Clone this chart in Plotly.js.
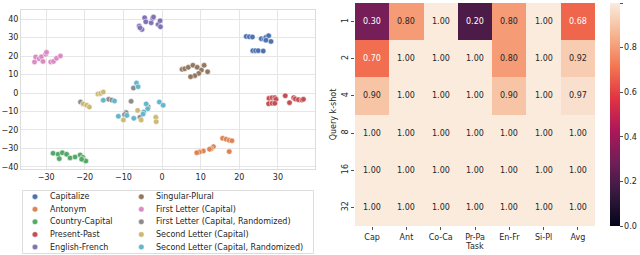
<!DOCTYPE html>
<html><head><meta charset="utf-8">
<script src="https://cdn.plot.ly/plotly-3.0.1.min.js"></script>
<style>html,body{margin:0;padding:0;background:#fff}#chart{width:640px;height:255px}</style>
</head><body><div id="chart"></div>
<script>
// ---------- scatter (embedding) data ----------
const taskNames = ["Capitalize","Antonym","Country-Capital","Present-Past","English-French",
  "Singular-Plural","First Letter (Capital)","First Letter (Capital, Randomized)",
  "Second Letter (Capital)","Second Letter (Capital, Randomized)"];
const taskColors = ["#4c72b0","#dd8452","#55a868","#c44e52","#8172b3",
  "#937860","#da8bc3","#8c8c8c","#ccb974","#64b5cd"];

const capitalizeX = [21.8,22.6,23.4,25.7,26.5,26.9,27.6,28.2,26.9,23.5,24.2,24.9,26.2];
const capitalizeY = [30.6,30.4,30.3,29.4,29.2,30.1,31.0,27.9,28.6,22.9,22.9,22.9,22.7];
const antonymX = [15.7,16.6,17.4,18.1,13.3,12.7,12.3,10.7,9.7,9.0,17.4];
const antonymY = [-24.5,-25.0,-25.6,-25.8,-29.0,-30.1,-30.4,-31.4,-31.9,-32.3,-31.7];
const countryCapitalX = [-28.2,-26.9,-25.8,-24.7,-23.8,-22.5,-21.2,-20.5,-20.2,-19.7,-20.8,-26.6];
const countryCapitalY = [-32.6,-33.1,-32.3,-33.1,-35.1,-34.6,-33.5,-34.8,-36.2,-36.8,-35.8,-35.5];
const presentPastX = [27.7,28.5,29.2,29.5,27.6,28.5,29.2,31.9,33.0,34.1,34.5,35.3,36.2,36.6];
const presentPastY = [-2.9,-2.5,-2.5,-3.4,-5.8,-5.6,-5.6,-1.5,-5.2,-2.5,-3.2,-3.6,-3.8,-3.4];
const englishFrenchX = [-4.5,-4.2,-5.9,-5.2,-5.7,-2.8,-2.4,-2.2,-1.0,-0.5,-0.4];
const englishFrenchY = [40.7,38.5,36.2,34.4,35.3,38.0,40.4,41.1,37.1,39.1,35.8];
const singularPluralX = [5.2,5.9,6.8,8.0,9.1,10.2,10.9,11.8,9.5,8.5,7.4];
const singularPluralY = [12.8,13.1,13.9,15.0,13.9,12.4,15.0,11.5,10.6,9.4,8.8];
const firstLetterX = [-33.0,-32.7,-31.8,-31.2,-30.8,-30.1,-29.9,-28.8,-28.1,-27.3,-26.3];
const firstLetterY = [16.8,19.5,18.5,19.6,17.1,20.9,22.0,16.8,17.1,18.8,20.0];
const firstLetterRandX = [-21.1,-13.8,-13.0,-7.4,-8.0,-9.3,-5.7,-3.6,-9.7];
const firstLetterRandY = [-4.9,-3.4,-3.8,2.7,-4.5,-10.6,-13.1,-7.4,-11.7];
const secondLetterX = [-20.4,-19.5,-18.8,-16.6,-15.9,-15.2,-6.3,-10.0,-5.4,-1.6,-1.5];
const secondLetterY = [-5.9,-6.6,-7.6,-0.5,-0.2,0.5,-9.4,-14.6,-14.6,-13.1,-15.5];
const secondLetterRandX = [-15.2,-12.3,-11.3,-9.1,-7.3,-6.6,-6.2,-4.1,-3.7,-4.7,-4.9,-0.7,0.3];
const secondLetterRandY = [-3.9,-4.3,-12.6,-12.1,-13.7,5.4,3.4,-5.9,-8.5,-10.3,-11.4,-4.9,-6.6];

const seriesX = [capitalizeX,antonymX,countryCapitalX,presentPastX,englishFrenchX,
  singularPluralX,firstLetterX,firstLetterRandX,secondLetterX,secondLetterRandX];
const seriesY = [capitalizeY,antonymY,countryCapitalY,presentPastY,englishFrenchY,
  singularPluralY,firstLetterY,firstLetterRandY,secondLetterY,secondLetterRandY];

// ---------- heatmap data ----------
const taskAbbrev = ["Cap","Ant","Co-Ca","Pr-Pa","En-Fr","Si-Pl","Avg"];
const kShots = ["1","2","4","8","16","32"];
const acc_k1  = [0.30,0.80,1.00,0.20,0.80,1.00,0.68];
const acc_k2  = [0.70,1.00,1.00,1.00,0.80,1.00,0.92];
const acc_k4  = [0.90,1.00,1.00,1.00,0.90,1.00,0.97];
const acc_k8  = [1.00,1.00,1.00,1.00,1.00,1.00,1.00];
const acc_k16 = [1.00,1.00,1.00,1.00,1.00,1.00,1.00];
const acc_k32 = [1.00,1.00,1.00,1.00,1.00,1.00,1.00];
const accRows = [acc_k1,acc_k2,acc_k4,acc_k8,acc_k16,acc_k32];
const cbTicks = [0,0.2,0.4,0.6,0.8,1.0];

const FONT = "DejaVu Sans";
const TXT = "#262626";
const W = 640, H = 255;
const px = v => v / W, py = v => 1 - v / H;

const rocket = [[0,"#03051a"],[0.143,"#35193e"],[0.286,"#701f57"],[0.429,"#ad1759"],
  [0.571,"#e13342"],[0.714,"#f37651"],[0.857,"#f6b48f"],[1,"#faebdd"]];

const colIdx = taskAbbrev.map((_,i)=>i);
const rowIdx = kShots.map((_,i)=>i);

const traces = [];
taskNames.forEach((name,i)=>{
  traces.push({type:"scatter",mode:"markers",x:seriesX[i],y:seriesY[i],name:name,
    xaxis:"x",yaxis:"y",showlegend:false,hoverinfo:"skip",
    marker:{color:taskColors[i],size:5.5,line:{color:"#ffffff",width:0.5}}});
});

traces.push({type:"heatmap",x:colIdx,y:rowIdx,z:accRows,xaxis:"x2",yaxis:"y2",
  zmin:0,zmax:1,colorscale:rocket,hoverinfo:"skip",
  colorbar:{x:px(610),xanchor:"left",xref:"paper",y:py(226),yanchor:"bottom",yref:"paper",
    len:(226-3)/H,lenmode:"fraction",thickness:10,thicknessmode:"pixels",
    xpad:0,ypad:0,outlinewidth:0,ticks:"outside",ticklen:3,tickwidth:0.8,tickcolor:TXT,
    tickvals:cbTicks,ticktext:cbTicks.map(v=>v.toFixed(1)),
    tickfont:{family:FONT,size:8,color:TXT}}});

// legend swatches (positions from index: column-major, 5 rows)
const legCol = taskNames.map((_,i)=>Math.floor(i/5));
const legRow = taskNames.map((_,i)=>i%5);
traces.push({type:"scatter",mode:"markers",x:legCol,y:legRow,xaxis:"x3",yaxis:"y3",
  showlegend:false,hoverinfo:"skip",cliponaxis:false,
  marker:{color:taskColors,size:5.5,line:{color:"#ffffff",width:0.4}}});

const annotations = [];
accRows.forEach((row,r)=>{
  row.forEach((v,c)=>{
    annotations.push({x:colIdx[c],y:rowIdx[r],xref:"x2",yref:"y2",text:v.toFixed(2),
      showarrow:false,font:{family:FONT,size:8,color:v<0.75?"#ffffff":TXT}});
  });
});
taskNames.forEach((name,i)=>{
  annotations.push({x:legCol[i],y:legRow[i],xref:"x3",yref:"y3",text:name,showarrow:false,
    xanchor:"left",xshift:13,font:{family:FONT,size:8,color:TXT}});
});

const layout = {
  width:W,height:H,margin:{l:0,r:0,t:0,b:0},paper_bgcolor:"#fff",plot_bgcolor:"#fff",
  showlegend:false,font:{family:FONT,size:8,color:TXT},
  xaxis:{domain:[px(21),px(315)],range:[-36.5,39.6],tickvals:[-30,-20,-10,0,10,20,30],
    showgrid:true,gridcolor:"#e6e6e6",gridwidth:1,zeroline:false,showline:true,mirror:true,
    linecolor:"#dcdcdc",linewidth:1,ticks:"",tickfont:{family:FONT,size:8,color:TXT},
    automargin:false,fixedrange:true,anchor:"y"},
  yaxis:{domain:[py(169),py(10)],range:[-41.1,44.9],tickvals:[-40,-30,-20,-10,0,10,20,30,40],
    showgrid:true,gridcolor:"#e6e6e6",gridwidth:1,zeroline:false,showline:true,mirror:true,
    linecolor:"#dcdcdc",linewidth:1,ticks:"",tickfont:{family:FONT,size:8,color:TXT},
    automargin:false,fixedrange:true,anchor:"x"},
  xaxis2:{domain:[px(355),px(595)],anchor:"y2",range:[-0.5,taskAbbrev.length-0.5],
    tickvals:colIdx,ticktext:taskAbbrev,showgrid:false,zeroline:false,
    showline:false,ticks:"outside",ticklen:3,tickwidth:0.8,tickcolor:TXT,
    tickfont:{family:FONT,size:8,color:TXT},automargin:false,fixedrange:true,
    title:{text:"Task",font:{family:FONT,size:8,color:TXT},standoff:2}},
  yaxis2:{domain:[py(226),py(3)],anchor:"x2",range:[kShots.length-0.5,-0.5],
    tickvals:rowIdx,ticktext:kShots,
    showgrid:false,zeroline:false,showline:false,ticks:"outside",ticklen:3,tickwidth:0.8,
    tickcolor:TXT,tickangle:-90,tickfont:{family:FONT,size:8,color:TXT},automargin:false,
    fixedrange:true,title:{text:"Query k-shot",font:{family:FONT,size:8,color:TXT},standoff:2}},
  xaxis3:{domain:[px(35),px(141.3)],range:[0,1],visible:false,fixedrange:true,anchor:"y3"},
  yaxis3:{domain:[py(247),py(196.7)],range:[4,0],visible:false,fixedrange:true,anchor:"x3"},
  shapes:[{type:"rect",xref:"paper",yref:"paper",x0:px(22.5),x1:px(313.5),y0:py(253.5),y1:py(190.5),
    line:{color:"#dddddd",width:1},fillcolor:"rgba(255,255,255,0.8)",layer:"below"}],
  annotations:annotations
};

Plotly.newPlot("chart",traces,layout,{displayModeBar:false,staticPlot:true});
</script></body></html>
